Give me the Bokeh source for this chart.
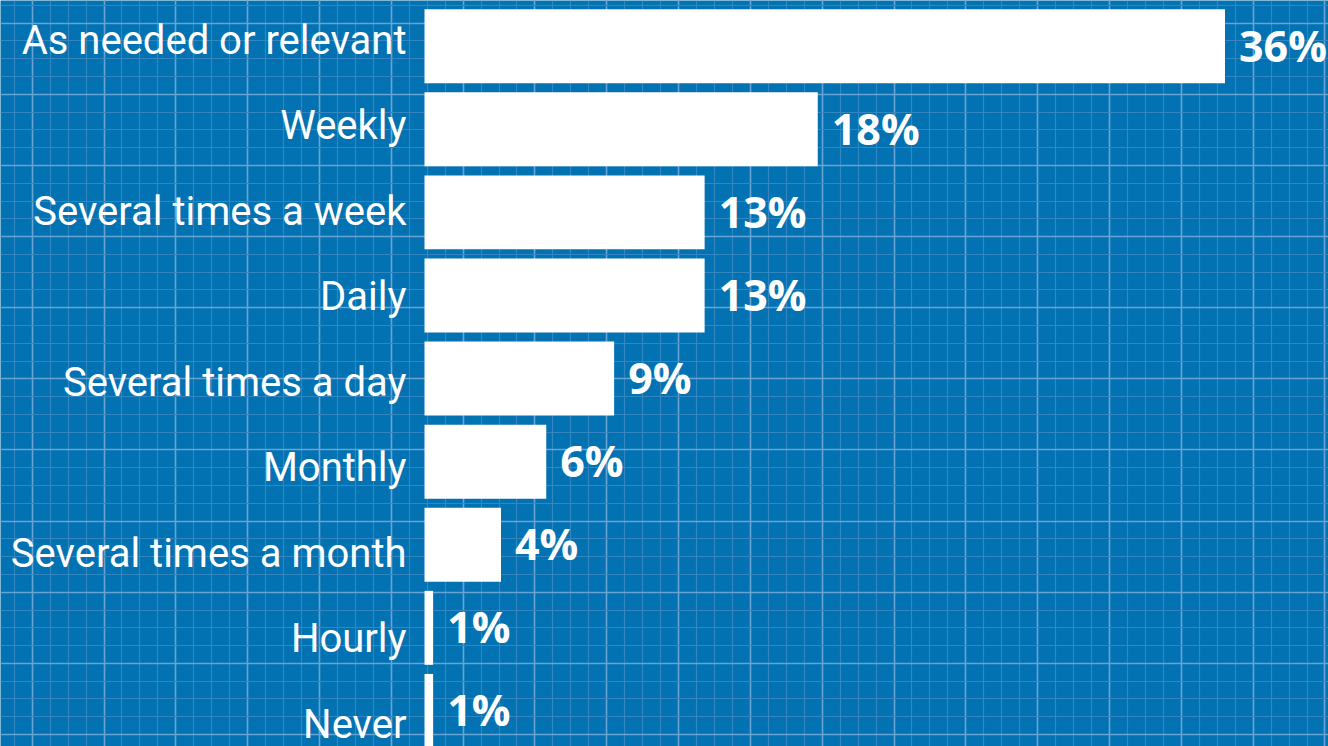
from bokeh.plotting import figure
from bokeh.models import Range1d, Grid, SingleIntervalTicker, ColumnDataSource
from bokeh.core.properties import value
from bokeh.embed import file_html
from bokeh.resources import INLINE

# ---- data ----
categories = ["As needed or relevant", "Weekly", "Several times a week", "Daily",
              "Several times a day", "Monthly", "Several times a month", "Hourly", "Never"]
percents = [36, 18, 13, 13, 9, 6, 4, 1, 1]
value_labels = ["36%", "18%", "13%", "13%", "9%", "6%", "4%", "1%", "1%"]

# ---- layout / style ----
W, H = 1328, 746
BG = "#0272b2"
MINOR = "#3486c0"
MAJOR = "#67a4d4"
WHITE = "#ffffff"

PX_PER_UNIT = 22.625      # px per percentage point
ZERO_PX = 410.0           # page x of the value origin
BAR_CLIP_PX = 424.0       # bars start at the edge of the label column
BAND_PX = 83.09           # px per category band (bars)
FIRST_CENTER_PX = 45.7    # page y of first band centre (bars)
LABEL_BAND_PX = 85.5      # px per row in the label column
LABEL_FIRST_PX = 42.5     # page y of first label row

x_start = -ZERO_PX / PX_PER_UNIT
x_end = (W - ZERO_PX) / PX_PER_UNIT
bar_left = (BAR_CLIP_PX - ZERO_PX) / PX_PER_UNIT
y_top = -FIRST_CENTER_PX / BAND_PX
y_bottom = (H - FIRST_CENTER_PX) / BAND_PX
ly_top = -LABEL_FIRST_PX / LABEL_BAND_PX
ly_bottom = (H - LABEL_FIRST_PX) / LABEL_BAND_PX

pos = list(range(len(categories)))
src = ColumnDataSource(dict(pos=pos, cat=categories, val=percents, lab=value_labels))

p = figure(width=W, height=H, x_range=Range1d(x_start, x_end),
           y_range=Range1d(y_bottom, y_top),
           toolbar_location=None, output_backend="svg",
           min_border=0, min_border_left=0, min_border_right=0,
           min_border_top=0, min_border_bottom=0,
           background_fill_color=BG, border_fill_color=BG,
           outline_line_color=None)
p.xaxis.visible = False
p.yaxis.visible = False
p.xgrid.visible = False
p.ygrid.visible = False

# blueprint-style background grid (pixel-based ranges)
p.extra_x_ranges = {"gx": Range1d(-31.7, W - 31.7)}
p.extra_y_ranges = {"gy": Range1d(H - 22.7, -22.7),
                    "lab": Range1d(ly_bottom, ly_top)}
for dim, interval, in ((0, 71.82), (1, 71.13)):
    g = Grid(dimension=dim,
             ticker=SingleIntervalTicker(interval=interval, num_minor_ticks=4),
             x_range_name="gx", y_range_name="gy",
             grid_line_color=MAJOR, grid_line_width=1.6,
             minor_grid_line_color=MINOR, minor_grid_line_width=1.2)
    p.add_layout(g)

p.hbar(y="pos", left=bar_left, right="val", height=0.89, source=src,
       fill_color=WHITE, line_color=None)

p.text(x="val", y="pos", text="lab", source=src, x_offset=14, y_offset=-1,
       text_align="left", text_baseline="alphabetic",
       text_font=value("Open Sans"), text_font_style="bold",
       text_font_size="43px", text_color=WHITE)

p.text(x=0, y="pos", text="cat", source=src, x_offset=-4, y_offset=-3,
       y_range_name="lab",
       text_align="right", text_baseline="alphabetic",
       text_font=value("Roboto"), text_font_size="40px", text_color=WHITE)

open("out.html", "w").write(file_html(p, INLINE))
